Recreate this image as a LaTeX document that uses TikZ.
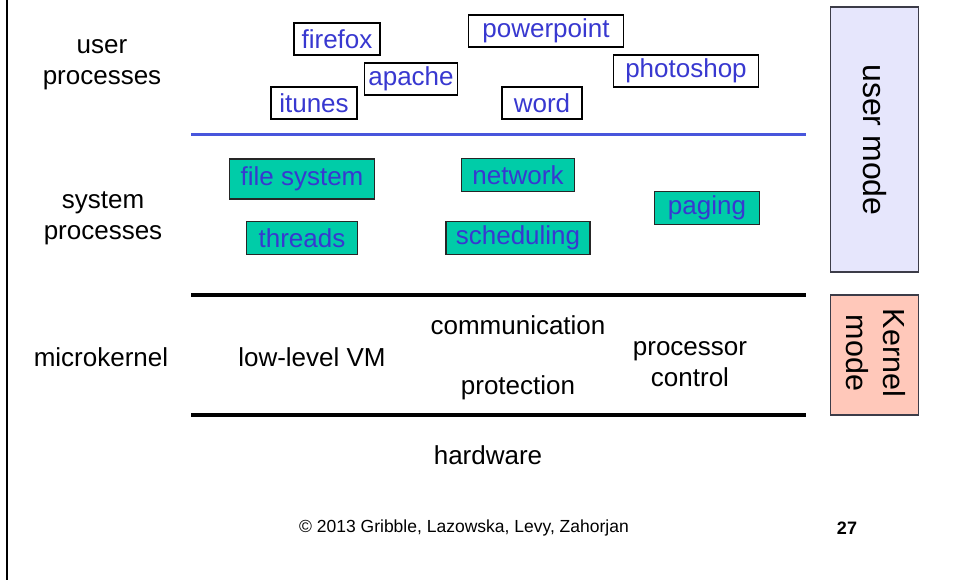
\documentclass[tikz,border=0pt]{standalone}
\usepackage{fontspec}
\setmainfont{Liberation Sans}
\definecolor{txtblue}{RGB}{56,56,208}
\definecolor{lineblue}{RGB}{72,86,220}
\definecolor{sysfill}{RGB}{0,204,168}
\definecolor{usermodefill}{RGB}{230,230,252}
\definecolor{kernmodefill}{RGB}{255,200,186}
\definecolor{modeframe}{RGB}{60,60,72}
\tikzset{
  lbl/.style={font=\fontsize{26}{31}\selectfont, inner sep=0pt, align=center},
  ubox/.style={draw=black, line width=1.3pt, fill=white, text=txtblue,
    font=\fontsize{26}{31}\selectfont, inner sep=0pt, minimum height=32pt},
  sbox/.style={draw=black!85, line width=1.3pt, fill=sysfill, text=txtblue,
    font=\fontsize{26}{31}\selectfont, inner sep=0pt},
  modebox/.style={draw=modeframe, line width=1.3pt, inner sep=0pt},
  layerline/.style={line width=3.5pt},
}
\begin{document}
\begin{tikzpicture}[x=1pt,y=-1pt]
\useasboundingbox (0,0) rectangle (954,580);
% left frame line
\draw[line width=2.5pt] (7,0) -- (7,580);

% left labels
\node[lbl] (ulbl) at (102,65) {user\\processes};
\node[lbl] (slbl) at (103,218) {system\\processes};
\node[lbl] (mlbl) at (101,357) {microkernel};

% layer lines
\draw[lineblue, line width=3pt] (191,135) -- (806,135);
\draw[layerline] (191,295) -- (806,295);
\draw[layerline] (191,415) -- (806,415);

% user processes
\node[ubox, minimum width=86pt] (firefox) at (337,39) {firefox};
\node[ubox, minimum width=155pt] (powerpoint) at (546,31) {powerpoint};
\node[ubox, minimum width=93pt] (apache) at (411,79) {apache};
\node[ubox, minimum width=145pt] (photoshop) at (686,71) {photoshop};
\node[ubox, minimum width=86pt] (itunes) at (314,103) {itunes};
\node[ubox, minimum width=80pt] (word) at (542,103) {word};

% system processes
\node[sbox, minimum width=145pt, minimum height=40pt] (fs) at (302,179) {file system};
\node[sbox, minimum width=113pt, minimum height=33pt] (net) at (518,175) {network};
\node[sbox, minimum width=105pt, minimum height=33pt] (paging) at (707,208) {paging};
\node[sbox, minimum width=111pt, minimum height=33pt] (threads) at (302,238) {threads};
\node[sbox, minimum width=144pt, minimum height=33pt] (sched) at (518,238) {scheduling};

% microkernel contents
\node[lbl] (lvm) at (312,357) {low-level VM};
\node[lbl] (comm) at (518,325) {communication};
\node[lbl] (prot) at (518,388) {protection};
\node[lbl] (proc) at (690,364) {processor\\control};

% hardware
\node[lbl] (hw) at (488,455) {hardware};

% mode boxes
\node[modebox, fill=usermodefill, minimum width=88pt, minimum height=265pt] (umode) at (874.5,139.5) {};
\node[lbl, rotate=-90, font=\fontsize{32}{38}\selectfont] (umodetxt) at (875,140) {user mode};
\node[modebox, fill=kernmodefill, minimum width=88pt, minimum height=120pt] (kmode) at (874.5,355) {};
\node[lbl, rotate=-90, font=\fontsize{30.5}{37}\selectfont] (kmodetxt) at (876,353) {Kernel\\mode};

% footer
\node[font=\fontsize{17.5}{20}\selectfont, inner sep=0pt] (copy) at (464,528) {© 2013 Gribble, Lazowska, Levy, Zahorjan};
\node[font=\fontsize{18}{20}\selectfont\bfseries, inner sep=0pt] (pagenum) at (847,528) {27};
\end{tikzpicture}
\end{document}
